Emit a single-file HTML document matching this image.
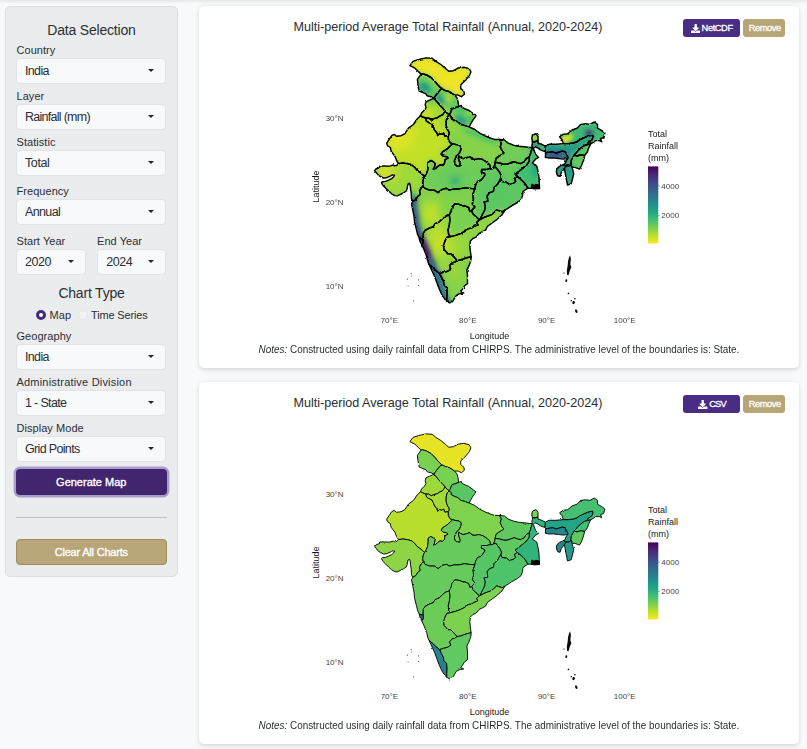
<!DOCTYPE html>
<html><head><meta charset="utf-8">
<style>
*{box-sizing:border-box;margin:0;padding:0}
html,body{width:807px;height:749px;overflow:hidden;background:#f8f9fa;font-family:"Liberation Sans",sans-serif;color:#212529}
body{position:relative}
.topshade{position:absolute;left:0;top:0;width:807px;height:4px;background:linear-gradient(#e6e7e9,#f8f9fa)}
.side{position:absolute;left:5px;top:6px;width:173px;height:571px;background:#ebecee;border:1px solid #dcdfe2;border-radius:5px}
.abs{position:absolute;white-space:nowrap}
.h{font-size:14px;color:#2b2f33;text-align:center;left:0;width:171px;letter-spacing:-0.2px;margin-top:0.9px}
.lab{font-size:11px;left:10.5px;color:#2b2f33;letter-spacing:0.05px;margin-top:1.4px}
.sel{position:absolute;left:9.5px;width:150.5px;height:26px;margin-top:-1px;background:#f8f9fa;border:1px solid #dfe2e6;border-radius:4px;font-size:12.5px;line-height:24px;padding-left:8.5px;letter-spacing:-0.66px;color:#2b2f33}
.sel:after{content:"";position:absolute;right:11.3px;top:9.8px;border-left:3.5px solid transparent;border-right:3.5px solid transparent;border-top:3.5px solid #212529}
.btn{position:absolute;left:10px;width:150.5px;height:26px;border-radius:4px;color:#fff;font-size:11px;text-align:center;line-height:27px;letter-spacing:0;-webkit-text-stroke:0.35px #fff}
.card{position:absolute;left:199px;width:600px;height:362px;background:#fff;border-radius:5px;box-shadow:0 1.5px 4px rgba(0,0,0,.13)}
.title{position:absolute;left:0;width:498px;text-align:center;font-size:12.6px;top:14.3px;color:#2b2f33;letter-spacing:0;white-space:nowrap}
.sbtn{position:absolute;top:13px;height:18px;border-radius:3px;color:#fff;font-size:9.3px;line-height:18.6px;text-align:center;letter-spacing:-0.42px;-webkit-text-stroke:0.3px #fff;white-space:nowrap}
.sbtn svg{position:absolute;top:4.6px;width:9.4px;height:9.4px;fill:#fff}
.notes{position:absolute;left:-50px;width:700px;text-align:center;top:336.5px;font-size:11px;color:#2b2f33;white-space:nowrap;transform:scaleX(0.9);transform-origin:50% 50%}
.ax{position:absolute;font-size:8.5px;color:#4d4d4d}
.axt{position:absolute;font-size:9.5px;color:#1a1a1a}
</style></head><body>
<div class="topshade"></div>
<div class="side">
 <div class="abs h" style="top:14px">Data Selection</div>
 <div class="abs lab" style="top:36px">Country</div>
 <div class="sel" style="top:52px">India</div>
 <div class="abs lab" style="top:82px">Layer</div>
 <div class="sel" style="top:98px;letter-spacing:-0.72px">Rainfall (mm)</div>
 <div class="abs lab" style="top:128px">Statistic</div>
 <div class="sel" style="top:144px;letter-spacing:-0.38px">Total</div>
 <div class="abs lab" style="top:177px">Frequency</div>
 <div class="sel" style="top:193px;letter-spacing:-0.63px">Annual</div>
 <div class="abs lab" style="top:227px">Start Year</div>
 <div class="abs lab" style="top:227px;left:91px">End Year</div>
 <div class="sel" style="top:243px;width:70.5px;letter-spacing:-0.45px">2020</div>
 <div class="sel" style="top:243px;left:90.8px;width:69.2px;letter-spacing:-0.45px">2024</div>
 <div class="abs h" style="top:277px">Chart Type</div>
 <div class="abs" style="left:29.7px;top:302.8px;width:10.2px;height:10.2px;border-radius:50%;border:3.3px solid #432a7c;background:#fff"></div>
 <div class="abs lab" style="left:43.5px;top:301px">Map</div>
 <div class="abs" style="left:72.3px;top:303.3px;width:9.4px;height:9.4px;border-radius:50%;border:1px solid #e3e5e8;background:#f1f2f4"></div>
 <div class="abs lab" style="left:85px;top:301px;letter-spacing:-0.15px">Time Series</div>
 <div class="abs lab" style="top:322px">Geography</div>
 <div class="sel" style="top:338px">India</div>
 <div class="abs lab" style="top:368px;letter-spacing:0.2px">Administrative Division</div>
 <div class="sel" style="top:384px">1 - State</div>
 <div class="abs lab" style="top:414px">Display Mode</div>
 <div class="sel" style="top:430px">Grid Points</div>
 <div class="btn" style="top:462px;background:#42256f;box-shadow:0 0 0 2.4px #a99dca">Generate Map</div>
 <div class="abs" style="left:10px;top:510px;width:150.5px;height:1px;background:#bfc1c4"></div>
 <div class="btn" style="top:532.2px;background:#b8a678;border:1px solid #9d8c62;line-height:25px;letter-spacing:-0.2px">Clear All Charts</div>
</div>

<div class="card" style="top:6px" id="c1">
 <div class="title">Multi-period Average Total Rainfall (Annual, 2020-2024)</div>
 <div class="sbtn" style="left:484px;width:57px;background:#492c83;text-align:left;padding-left:18.6px"><svg viewBox="0 0 512 512" style="left:7.5px"><path d="M216 0h80c13.3 0 24 10.7 24 24v168h87.7c17.8 0 26.7 21.5 14.1 34.1L269.7 378.3c-7.5 7.5-19.8 7.5-27.3 0L90.1 226.1c-12.6-12.6-3.7-34.1 14.1-34.1H192V24c0-13.3 10.7-24 24-24zm296 376v112c0 13.3-10.7 24-24 24H24c-13.3 0-24-10.7-24-24V376c0-13.3 10.7-24 24-24h146.7l49 49c20.1 20.1 52.5 20.1 72.6 0l49-49H488c13.3 0 24 10.7 24 24z"/></svg>NetCDF</div>
 <div class="sbtn" style="left:544px;width:42px;background:#b8a678;padding-left:1.5px">Remove</div>
 <div class="notes"><i>Notes:</i> Constructed using daily rainfall data from CHIRPS. The administrative level of the boundaries is: State.</div>
</div>
<div class="card" style="top:382px" id="c2">
 <div class="title">Multi-period Average Total Rainfall (Annual, 2020-2024)</div>
 <div class="sbtn" style="left:484px;width:57px;background:#492c83;text-align:left;padding-left:26.3px;letter-spacing:-0.9px"><svg viewBox="0 0 512 512" style="left:15.3px"><path d="M216 0h80c13.3 0 24 10.7 24 24v168h87.7c17.8 0 26.7 21.5 14.1 34.1L269.7 378.3c-7.5 7.5-19.8 7.5-27.3 0L90.1 226.1c-12.6-12.6-3.7-34.1 14.1-34.1H192V24c0-13.3 10.7-24 24-24zm296 376v112c0 13.3-10.7 24-24 24H24c-13.3 0-24-10.7-24-24V376c0-13.3 10.7-24 24-24h146.7l49 49c20.1 20.1 52.5 20.1 72.6 0l49-49H488c13.3 0 24 10.7 24 24z"/></svg>CSV</div>
 <div class="sbtn" style="left:544px;width:42px;background:#b8a678;padding-left:1.5px">Remove</div>
 <div class="notes"><i>Notes:</i> Constructed using daily rainfall data from CHIRPS. The administrative level of the boundaries is: State.</div>
</div>
<!--MAP--><svg width="807" height="749" viewBox="0 0 807 749" style="position:absolute;left:0;top:0"><defs><linearGradient id="lg" x1="0" y1="1" x2="0" y2="0"><stop offset="0.0" stop-color="#FDE725"/><stop offset="0.1" stop-color="#BBDF27"/><stop offset="0.2" stop-color="#7AD151"/><stop offset="0.3" stop-color="#43BF71"/><stop offset="0.4" stop-color="#22A884"/><stop offset="0.5" stop-color="#21908C"/><stop offset="0.6" stop-color="#2A788E"/><stop offset="0.7" stop-color="#35608D"/><stop offset="0.8" stop-color="#414487"/><stop offset="0.9" stop-color="#482576"/><stop offset="1.0" stop-color="#440154"/></linearGradient><clipPath id="india"><path d="M421.1 74.1 L414.9 68.2 L409.9 65.7 L413.0 61.4 L418.6 59.5 L426.0 57.9 L432.2 58.3 L435.9 61.4 L440.9 64.5 L445.2 68.2 L448.9 71.3 L453.3 70.7 L458.2 68.2 L463.8 67.3 L469.4 68.8 L470.9 71.9 L469.4 75.6 L466.3 79.4 L463.2 82.5 L460.7 84.9 L460.7 88.6 L463.8 91.1 L464.4 94.2 L461.3 96.7 L458.2 95.1 L454.5 95.0 L456.9 97.8 L458.1 101.8 L458.6 106.5 L461.3 105.4 L462.1 107.4 L465.3 109.0 L468.5 110.2 L476.0 115.9 L472.9 120.2 L470.4 124.5 L469.2 127.0 L474.8 129.5 L479.7 133.2 L485.9 136.3 L490.9 138.2 L494.6 139.4 L499.6 139.4 L504.5 140.0 L508.2 143.1 L513.2 145.0 L518.1 146.2 L524.4 146.8 L529.3 147.5 L532.4 147.5 L531.8 145.5 L532.4 143.6 L532.4 141.5 L531.8 138.1 L532.4 135.0 L536.1 133.7 L538.0 136.2 L538.0 140.8 L538.0 143.0 L541.7 144.3 L545.4 146.1 L549.1 144.3 L555.9 144.3 L563.4 143.6 L562.1 139.9 L559.6 136.8 L562.8 134.4 L567.7 133.7 L572.0 130.0 L577.0 128.2 L580.7 124.4 L585.7 123.8 L590.0 124.4 L594.4 122.0 L597.5 124.4 L597.5 128.2 L601.8 130.6 L604.9 133.1 L603.6 137.5 L600.5 138.7 L601.8 141.8 L599.3 140.6 L595.6 140.6 L593.1 142.4 L590.6 143.9 L588.4 148.6 L587.5 151.7 L584.7 155.4 L583.2 161.0 L581.3 166.0 L579.5 169.1 L575.1 167.4 L572.1 167.3 L573.7 173.8 L572.5 178.8 L571.2 183.7 L567.5 185.0 L566.3 178.8 L565.1 172.6 L564.4 168.2 L563.2 170.1 L561.3 172.6 L560.1 176.3 L557.6 175.7 L556.4 172.0 L556.8 168.9 L559.5 166.4 L563.4 164.7 L565.2 163.5 L565.9 161.0 L567.7 158.5 L563.4 159.1 L558.4 158.5 L553.5 157.9 L548.5 157.9 L545.4 157.3 L545.6 152.6 L545.1 151.3 L543.5 151.1 L540.5 149.9 L538.0 148.0 L534.9 146.8 L533.4 148.4 L535.5 154.3 L538.6 157.4 L535.5 159.2 L532.4 163.0 L536.7 166.0 L538.2 172.2 L539.0 177.5 L539.3 183.7 L539.6 188.5 L534.7 188.9 L531.0 188.1 L527.8 188.2 L523.1 191.4 L522.5 195.7 L521.2 199.5 L517.5 202.5 L512.0 205.6 L508.2 208.1 L505.1 210.0 L502.0 214.9 L497.1 219.3 L492.1 223.0 L487.2 226.7 L485.9 229.8 L482.8 231.7 L479.1 233.5 L476.0 237.2 L472.9 238.5 L470.4 241.0 L469.8 245.9 L470.3 250.9 L471.2 256.9 L470.6 261.3 L468.8 266.2 L466.9 269.9 L467.5 276.1 L467.5 283.6 L464.4 286.0 L462.6 289.1 L460.7 291.6 L463.8 292.9 L459.5 293.7 L456.4 295.3 L454.5 298.4 L452.7 301.5 L449.6 302.9 L446.7 301.3 L445.2 299.7 L442.1 295.3 L439.6 289.8 L437.2 283.6 L434.7 276.8 L431.6 269.9 L429.1 264.4 L427.9 261.9 L426.6 256.3 L424.2 250.1 L421.7 244.5 L419.8 240.8 L419.3 238.0 L417.7 234.8 L416.5 229.8 L414.6 222.4 L414.0 216.2 L412.8 210.0 L411.5 203.8 L412.8 201.3 L411.5 198.8 L411.2 192.8 L410.6 189.1 L410.3 186.0 L409.6 183.2 L408.1 183.9 L407.5 186.0 L407.2 188.5 L406.2 191.0 L403.5 192.8 L400.4 194.4 L397.3 195.9 L394.8 195.6 L391.7 193.8 L388.6 191.0 L385.5 187.9 L382.4 184.8 L381.5 182.4 L382.4 181.7 L385.5 181.4 L388.6 180.1 L391.7 178.6 L393.5 177.0 L394.6 175.1 L392.3 174.9 L389.8 176.4 L386.7 177.7 L383.6 178.0 L380.5 176.7 L378.1 174.9 L376.2 172.4 L374.6 170.8 L376.2 168.7 L379.3 167.7 L379.9 165.9 L382.1 165.9 L384.9 165.9 L388.0 166.2 L390.4 165.9 L393.2 165.0 L394.8 165.9 L396.9 165.3 L398.5 163.6 L396.6 160.5 L394.8 156.1 L392.9 153.6 L391.1 151.2 L390.4 147.5 L387.4 145.6 L386.7 143.1 L389.2 139.4 L391.7 135.7 L394.2 134.4 L396.6 136.3 L401.0 135.7 L404.7 133.8 L408.4 128.2 L413.4 124.5 L417.1 119.0 L420.4 115.8 L421.6 113.0 L424.0 110.6 L426.0 107.8 L425.2 104.6 L426.0 101.8 L429.6 100.2 L434.0 98.2 L431.6 97.0 L427.2 95.8 L426.0 93.8 L419.2 91.1 L418.0 84.9 L417.4 79.4Z"/></clipPath><filter id="b6" x="-50%" y="-50%" width="200%" height="200%"><feGaussianBlur stdDeviation="6"/></filter><filter id="b3" x="-50%" y="-50%" width="200%" height="200%"><feGaussianBlur stdDeviation="2.5"/></filter><filter id="jag" x="-5%" y="-5%" width="110%" height="110%"><feTurbulence type="fractalNoise" baseFrequency="0.3" numOctaves="2" seed="3" result="n"/><feDisplacementMap in="SourceGraphic" in2="n" scale="2.2" xChannelSelector="R" yChannelSelector="G"/></filter><filter id="jag2" x="-5%" y="-5%" width="110%" height="110%"><feTurbulence type="fractalNoise" baseFrequency="0.3" numOctaves="2" seed="7" result="n"/><feDisplacementMap in="SourceGraphic" in2="n" scale="1.8" xChannelSelector="R" yChannelSelector="G"/></filter><filter id="b2" x="-50%" y="-50%" width="200%" height="200%"><feGaussianBlur stdDeviation="2.2"/></filter></defs><g clip-path="url(#india)"><rect x="370" y="50" width="250" height="260" fill="#6fcd58"/><g filter="url(#b3)"><path d="M421.1 74.1 L414.9 68.2 L409.9 65.7 L413.0 61.4 L418.6 59.5 L426.0 57.9 L432.2 58.3 L435.9 61.4 L440.9 64.5 L445.2 68.2 L448.9 71.3 L453.3 70.7 L458.2 68.2 L463.8 67.3 L469.4 68.8 L470.9 71.9 L469.4 75.6 L466.3 79.4 L463.2 82.5 L460.7 84.9 L460.7 88.6 L463.8 91.1 L464.4 94.2 L461.3 96.7 L458.2 95.1 L454.5 95.0 L449.6 91.8 L445.2 90.5 L441.5 88.6 L438.4 85.6 L434.7 81.2 L431.0 77.5 L426.6 75.0 L422.3 73.8Z" fill="#ede525" stroke="#ede525" stroke-width="2"/><path d="M421.1 74.1 L422.3 73.8 L426.6 75.0 L431.0 77.5 L434.7 81.2 L438.4 85.6 L441.5 88.6 L436.6 94.2 L434.0 98.2 L431.6 97.0 L427.2 95.8 L426.0 93.8 L419.2 91.1 L418.0 84.9 L417.4 79.4Z" fill="#6fcd58" stroke="#6fcd58" stroke-width="2"/><path d="M434.0 98.2 L436.6 94.2 L441.5 88.6 L445.2 90.5 L449.6 91.8 L454.5 95.0 L456.9 97.8 L458.1 101.8 L458.6 106.5 L454.9 107.8 L451.7 109.0 L450.9 111.4 L450.1 113.8 L449.2 114.8 L446.9 113.0 L444.9 110.8 L442.8 108.2 L440.4 105.8 L438.0 103.0 L435.6 100.2Z" fill="#64ca5e" stroke="#64ca5e" stroke-width="2"/><path d="M434.0 98.2 L435.6 100.2 L438.0 103.0 L440.4 105.8 L442.8 108.2 L444.9 110.8 L444.4 112.2 L442.8 114.6 L439.6 116.2 L437.2 117.8 L434.0 118.6 L431.2 119.8 L428.8 118.2 L425.6 118.0 L422.8 117.0 L420.4 115.8 L421.6 113.0 L424.0 110.6 L426.0 107.8 L425.2 104.6 L426.0 101.8 L429.6 100.2Z" fill="#a5da36" stroke="#a5da36" stroke-width="2"/><path d="M425.6 118.0 L428.8 118.2 L431.2 119.8 L434.0 118.6 L437.2 117.8 L439.6 116.2 L442.8 114.6 L444.4 112.2 L444.9 110.8 L446.9 113.0 L449.2 114.8 L447.2 117.0 L446.2 121.0 L446.1 125.1 L446.7 127.4 L447.6 129.9 L449.2 132.3 L449.2 134.3 L448.3 135.6 L446.4 135.9 L444.9 136.3 L443.6 133.1 L441.6 134.3 L439.6 133.5 L437.6 135.5 L436.8 132.7 L434.4 129.9 L433.2 126.6 L431.6 123.9 L428.8 122.6 L426.4 121.0Z" fill="#b7de2a" stroke="#b7de2a" stroke-width="2"/><path d="M458.6 106.5 L461.3 105.4 L462.1 107.4 L465.3 109.0 L468.5 110.2 L476.0 115.9 L472.9 120.2 L470.4 124.5 L469.2 127.0 L467.7 126.6 L464.5 125.4 L460.5 124.2 L458.1 121.8 L454.9 120.6 L451.7 119.0 L450.9 116.6 L449.2 114.8 L450.1 113.8 L450.9 111.4 L451.7 109.0 L454.9 107.8Z" fill="#4ac16d" stroke="#4ac16d" stroke-width="2"/><path d="M398.5 163.6 L396.6 160.5 L394.8 156.1 L392.9 153.6 L391.1 151.2 L390.4 147.5 L387.4 145.6 L386.7 143.1 L389.2 139.4 L391.7 135.7 L394.2 134.4 L396.6 136.3 L401.0 135.7 L404.7 133.8 L408.4 128.2 L413.4 124.5 L417.1 119.0 L420.4 115.8 L422.8 117.0 L425.6 118.0 L426.4 121.0 L428.8 122.6 L431.6 123.9 L433.2 126.6 L434.4 129.9 L436.8 132.7 L437.6 135.5 L439.6 133.5 L441.6 134.3 L443.6 133.1 L444.9 136.3 L446.4 135.9 L448.3 135.6 L448.4 139.5 L450.1 142.7 L452.8 143.8 L451.2 145.0 L448.1 148.1 L445.6 149.9 L442.5 151.8 L441.2 154.3 L443.1 156.1 L446.8 156.8 L448.1 158.0 L445.0 159.9 L444.4 163.6 L442.5 165.4 L440.0 164.8 L437.5 166.7 L435.7 168.5 L433.2 169.1 L434.4 167.3 L435.1 163.6 L433.2 161.7 L430.7 160.5 L428.2 162.3 L428.2 166.0 L427.6 170.4 L426.4 173.5 L424.5 176.6 L422.7 174.7 L419.6 172.2 L417.1 170.4 L414.6 167.3 L411.5 164.8 L407.2 163.6 L402.8 163.0Z" fill="#c2e027" stroke="#c2e027" stroke-width="2"/><path d="M449.2 114.8 L450.9 116.6 L451.7 119.0 L454.9 120.6 L458.1 121.8 L460.5 124.2 L464.5 125.4 L467.7 126.6 L469.2 127.0 L474.8 129.5 L479.7 133.2 L485.9 136.3 L490.9 138.2 L494.6 139.4 L499.6 139.4 L501.4 143.1 L500.2 146.8 L502.0 150.6 L503.9 153.0 L501.4 154.9 L498.9 156.1 L495.9 158.6 L495.2 162.3 L494.6 165.4 L493.4 167.9 L491.9 168.8 L490.5 168.6 L489.7 165.0 L487.7 163.0 L484.9 161.0 L481.7 159.0 L478.4 158.6 L475.2 159.4 L472.0 159.0 L470.0 156.6 L466.4 157.8 L463.2 158.6 L460.4 157.4 L458.8 156.2 L458.4 158.2 L459.2 161.0 L460.4 164.2 L459.6 166.2 L456.8 165.9 L454.8 164.2 L454.4 161.0 L455.6 157.8 L456.4 155.8 L458.0 154.6 L459.6 152.6 L460.8 149.8 L461.2 147.0 L459.2 145.0 L456.0 144.6 L452.8 143.8 L450.1 142.7 L448.4 139.5 L448.3 135.6 L449.2 134.3 L449.2 132.3 L447.6 129.9 L446.7 127.4 L446.1 125.1 L446.2 121.0 L447.2 117.0Z" fill="#85d34a" stroke="#85d34a" stroke-width="2"/><path d="M499.6 139.4 L504.5 140.0 L508.2 143.1 L513.2 145.0 L518.1 146.2 L524.4 146.8 L529.3 147.5 L532.4 147.5 L531.2 151.2 L530.5 153.6 L529.3 156.8 L526.2 158.6 L524.4 161.7 L520.6 163.6 L517.5 163.0 L514.4 161.7 L510.7 163.0 L507.0 164.2 L503.3 164.2 L499.6 163.0 L495.2 162.3 L495.9 158.6 L498.9 156.1 L501.4 154.9 L503.9 153.0 L502.0 150.6 L500.2 146.8 L501.4 143.1Z" fill="#6fcd58" stroke="#6fcd58" stroke-width="2"/><path d="M495.2 162.3 L499.6 163.0 L503.3 164.2 L507.0 164.2 L510.7 163.0 L514.4 161.7 L517.5 163.0 L520.6 163.6 L524.4 161.7 L526.2 158.6 L529.3 156.8 L529.3 161.1 L526.8 164.8 L523.1 167.9 L519.4 171.0 L515.1 174.1 L517.5 176.6 L514.4 178.4 L515.7 181.5 L513.2 183.4 L509.5 184.6 L506.4 182.1 L502.0 181.5 L500.8 178.4 L501.4 176.0 L499.6 172.2 L497.7 169.8 L495.9 167.3 L493.4 167.9 L494.6 165.4Z" fill="#69cc5b" stroke="#69cc5b" stroke-width="2"/><path d="M532.4 147.5 L531.8 145.5 L532.4 143.6 L532.4 141.5 L534.9 141.8 L538.0 140.8 L538.0 143.0 L541.7 144.3 L545.4 146.1 L545.1 151.3 L543.5 151.1 L540.5 149.9 L538.0 148.0 L534.9 146.8 L533.4 148.4 L535.5 154.3 L538.6 157.4 L535.5 159.2 L532.4 163.0 L536.7 166.0 L538.2 172.2 L539.0 177.5 L539.3 183.7 L539.6 188.5 L534.7 188.9 L531.0 188.1 L527.8 188.2 L525.0 183.4 L521.2 179.7 L517.5 176.6 L515.1 174.1 L519.4 171.0 L523.1 167.9 L526.8 164.8 L529.3 161.1 L529.3 156.8 L530.5 153.6 L531.2 151.2Z" fill="#41be72" stroke="#41be72" stroke-width="2"/><path d="M532.4 141.5 L531.8 138.1 L532.4 135.0 L536.1 133.7 L538.0 136.2 L538.0 140.8 L534.9 141.8Z" fill="#a5da36" stroke="#a5da36" stroke-width="2"/><path d="M412.8 201.3 L411.5 198.8 L411.2 192.8 L410.6 189.1 L410.3 186.0 L409.6 183.2 L408.1 183.9 L407.5 186.0 L407.2 188.5 L406.2 191.0 L403.5 192.8 L400.4 194.4 L397.3 195.9 L394.8 195.6 L391.7 193.8 L388.6 191.0 L385.5 187.9 L382.4 184.8 L381.5 182.4 L382.4 181.7 L385.5 181.4 L388.6 180.1 L391.7 178.6 L393.5 177.0 L394.6 175.1 L392.3 174.9 L389.8 176.4 L386.7 177.7 L383.6 178.0 L380.5 176.7 L378.1 174.9 L376.2 172.4 L374.6 170.8 L376.2 168.7 L379.3 167.7 L379.9 165.9 L382.1 165.9 L384.9 165.9 L388.0 166.2 L390.4 165.9 L393.2 165.0 L394.8 165.9 L396.9 165.3 L398.5 163.6 L402.8 163.0 L407.2 163.6 L411.5 164.8 L414.6 167.3 L417.1 170.4 L419.6 172.2 L422.7 174.7 L424.5 176.6 L423.3 179.0 L422.7 182.7 L423.3 185.8 L421.4 187.7 L419.6 190.8 L420.2 194.5 L417.7 196.4 L415.9 199.5Z" fill="#9ed93a" stroke="#9ed93a" stroke-width="2"/><path d="M424.5 176.6 L426.4 173.5 L427.6 170.4 L428.2 166.0 L428.2 162.3 L430.7 160.5 L433.2 161.7 L435.1 163.6 L434.4 167.3 L433.2 169.1 L435.7 168.5 L437.5 166.7 L440.0 164.8 L442.5 165.4 L444.4 163.6 L445.0 159.9 L448.1 158.0 L446.8 156.8 L443.1 156.1 L441.2 154.3 L442.5 151.8 L445.6 149.9 L448.1 148.1 L451.2 145.0 L452.8 143.8 L456.0 144.6 L459.2 145.0 L461.2 147.0 L460.8 149.8 L459.6 152.6 L458.0 154.6 L456.4 155.8 L455.6 157.8 L454.4 161.0 L454.8 164.2 L456.8 165.9 L459.6 166.2 L460.4 164.2 L459.2 161.0 L458.4 158.2 L458.8 156.2 L460.4 157.4 L463.2 158.6 L466.4 157.8 L470.0 156.6 L472.0 159.0 L475.2 159.4 L478.4 158.6 L481.7 159.0 L484.9 161.0 L487.7 163.0 L489.7 165.0 L490.5 168.6 L486.9 169.5 L481.7 169.5 L481.3 171.9 L484.5 173.5 L484.9 175.1 L482.9 177.9 L480.9 180.3 L477.6 181.5 L475.6 185.1 L474.8 188.9 L468.6 188.3 L464.2 187.7 L459.2 188.9 L454.3 188.9 L449.3 190.1 L446.2 188.3 L441.9 189.5 L438.1 192.6 L434.4 190.1 L429.5 190.1 L425.1 188.3 L423.3 185.8 L422.7 182.7 L423.3 179.0Z" fill="#6fcd58" stroke="#6fcd58" stroke-width="2"/><path d="M474.8 188.9 L475.6 185.1 L477.6 181.5 L480.9 180.3 L482.9 177.9 L484.9 175.1 L484.5 173.5 L481.3 171.9 L481.7 169.5 L486.9 169.5 L490.5 168.6 L491.9 168.8 L493.4 167.9 L495.9 167.3 L497.7 169.8 L499.6 172.2 L501.4 176.0 L500.8 178.4 L497.7 184.0 L494.0 187.7 L493.4 191.4 L489.6 192.6 L487.2 195.7 L487.8 201.3 L484.1 201.9 L485.3 205.6 L484.7 210.0 L482.8 213.7 L480.4 218.6 L479.5 219.9 L476.0 216.8 L472.9 213.7 L471.7 210.4 L474.8 206.9 L472.3 203.8 L473.5 198.8 L472.9 193.9Z" fill="#64ca5e" stroke="#64ca5e" stroke-width="2"/><path d="M500.8 178.4 L502.0 181.5 L506.4 182.1 L509.5 184.6 L513.2 183.4 L515.7 181.5 L514.4 178.4 L517.5 176.6 L521.2 179.7 L525.0 183.4 L527.8 188.2 L523.1 191.4 L522.5 195.7 L521.2 199.5 L517.5 202.5 L512.0 205.6 L508.2 208.1 L505.1 210.0 L502.0 211.8 L498.9 210.6 L496.5 210.0 L493.4 213.1 L490.9 214.9 L487.2 216.2 L484.1 217.4 L479.5 219.9 L480.4 218.6 L482.8 213.7 L484.7 210.0 L485.3 205.6 L484.1 201.9 L487.8 201.3 L487.2 195.7 L489.6 192.6 L493.4 191.4 L494.0 187.7 L497.7 184.0Z" fill="#5dc762" stroke="#5dc762" stroke-width="2"/><path d="M419.3 238.0 L417.7 234.8 L416.5 229.8 L414.6 222.4 L414.0 216.2 L412.8 210.0 L411.5 203.8 L412.8 201.3 L415.9 199.5 L417.7 196.4 L420.2 194.5 L419.6 190.8 L421.4 187.7 L423.3 185.8 L425.1 188.3 L429.5 190.1 L434.4 190.1 L438.1 192.6 L441.9 189.5 L446.2 188.3 L449.3 190.1 L454.3 188.9 L459.2 188.9 L464.2 187.7 L468.6 188.3 L474.8 188.9 L472.9 193.9 L473.5 198.8 L472.3 203.8 L474.8 206.9 L471.7 210.4 L469.8 211.5 L468.6 207.5 L464.2 205.6 L464.2 206.3 L459.2 204.4 L454.9 203.8 L451.8 207.5 L451.2 211.2 L449.3 214.9 L445.6 216.2 L442.5 218.6 L439.4 221.8 L435.1 223.6 L433.2 226.7 L429.5 228.0 L425.1 230.4 L423.3 233.5 L423.1 239.3Z" fill="#7fd24e" stroke="#7fd24e" stroke-width="2"/><path d="M449.3 214.9 L451.2 211.2 L451.8 207.5 L454.9 203.8 L459.2 204.4 L464.2 206.3 L464.2 205.6 L468.6 207.5 L469.8 211.5 L471.7 210.4 L472.9 213.7 L476.0 216.8 L479.5 219.9 L476.6 222.4 L477.9 224.9 L473.5 226.7 L471.7 228.0 L468.6 228.6 L464.9 230.4 L465.4 231.0 L460.5 233.5 L455.5 235.4 L450.6 236.6 L448.7 234.8 L448.1 229.8 L449.3 224.9 L449.9 219.9Z" fill="#79d151" stroke="#79d151" stroke-width="2"/><path d="M450.6 236.6 L455.5 235.4 L460.5 233.5 L465.4 231.0 L464.9 230.4 L468.6 228.6 L471.7 228.0 L473.5 226.7 L477.9 224.9 L476.6 222.4 L479.5 219.9 L484.1 217.4 L487.2 216.2 L490.9 214.9 L493.4 213.1 L496.5 210.0 L498.9 210.6 L502.0 211.8 L505.1 210.0 L502.0 214.9 L497.1 219.3 L492.1 223.0 L487.2 226.7 L485.9 229.8 L482.8 231.7 L479.1 233.5 L476.0 237.2 L472.9 238.5 L470.4 241.0 L469.8 245.9 L470.3 250.9 L471.2 256.9 L467.5 257.5 L463.8 258.8 L460.7 260.0 L457.0 260.6 L455.1 258.2 L453.3 256.3 L450.8 253.8 L447.7 253.8 L445.9 251.4 L444.0 249.5 L443.4 245.1 L443.7 244.7 L445.0 241.0 L446.8 237.2Z" fill="#92d642" stroke="#92d642" stroke-width="2"/><path d="M423.1 239.3 L423.3 233.5 L425.1 230.4 L429.5 228.0 L433.2 226.7 L435.1 223.6 L439.4 221.8 L442.5 218.6 L445.6 216.2 L449.3 214.9 L449.9 219.9 L449.3 224.9 L448.1 229.8 L448.7 234.8 L450.6 236.6 L446.8 237.2 L445.0 241.0 L443.7 244.7 L443.4 245.1 L444.0 249.5 L445.9 251.4 L447.7 253.8 L450.8 253.8 L453.3 256.3 L455.1 258.2 L457.0 260.6 L455.1 261.9 L452.0 263.1 L449.6 265.6 L450.8 269.3 L447.7 271.2 L443.4 272.4 L439.6 273.6 L435.9 270.6 L432.8 267.5 L429.1 264.4 L427.9 261.9 L426.6 256.3 L424.2 250.1 L421.7 244.5 L423.1 243.3Z" fill="#92d642" stroke="#92d642" stroke-width="2"/><path d="M419.3 238.0 L423.1 239.3 L423.1 243.3 L421.7 244.5 L419.8 240.8Z" fill="#306c8d" stroke="#306c8d" stroke-width="2"/><path d="M429.1 264.4 L432.8 267.5 L435.9 270.6 L439.6 273.6 L441.5 277.4 L443.4 281.1 L444.0 284.8 L446.5 287.3 L447.1 292.2 L446.8 297.2 L446.7 301.3 L445.2 299.7 L442.1 295.3 L439.6 289.8 L437.2 283.6 L434.7 276.8 L431.6 269.9Z" fill="#287e8d" stroke="#287e8d" stroke-width="2"/><path d="M439.6 273.6 L443.4 272.4 L447.7 271.2 L450.8 269.3 L449.6 265.6 L452.0 263.1 L455.1 261.9 L457.0 260.6 L460.7 260.0 L463.8 258.8 L467.5 257.5 L471.2 256.9 L470.6 261.3 L468.8 266.2 L466.9 269.9 L467.5 276.1 L467.5 283.6 L464.4 286.0 L462.6 289.1 L460.7 291.6 L463.8 292.9 L459.5 293.7 L456.4 295.3 L454.5 298.4 L452.7 301.5 L449.6 302.9 L446.7 301.3 L446.8 297.2 L447.1 292.2 L446.5 287.3 L444.0 284.8 L443.4 281.1 L441.5 277.4Z" fill="#85d34a" stroke="#85d34a" stroke-width="2"/><path d="M545.4 146.1 L549.1 144.3 L555.9 144.3 L563.4 143.6 L568.3 143.6 L573.3 143.0 L577.0 141.8 L579.5 139.9 L583.2 138.1 L587.5 136.2 L592.5 135.0 L593.1 136.8 L591.9 139.9 L588.1 142.4 L587.5 144.6 L584.4 145.5 L580.7 148.0 L577.6 151.1 L574.3 155.0 L573.3 156.7 L571.4 159.8 L570.8 164.7 L569.0 166.0 L566.0 166.0 L563.4 164.7 L565.2 163.5 L565.9 161.0 L567.7 158.5 L567.7 156.7 L565.9 154.2 L565.2 151.7 L562.1 151.1 L558.4 152.3 L555.9 153.0 L552.8 151.7 L549.1 152.3 L545.6 152.6 L545.1 151.3Z" fill="#219a89" stroke="#219a89" stroke-width="2"/><path d="M563.4 143.6 L562.1 139.9 L559.6 136.8 L562.8 134.4 L567.7 133.7 L572.0 130.0 L577.0 128.2 L580.7 124.4 L585.7 123.8 L590.0 124.4 L594.4 122.0 L597.5 124.4 L597.5 128.2 L601.8 130.6 L604.9 133.1 L603.6 137.5 L600.5 138.7 L601.8 141.8 L599.3 140.6 L595.6 140.6 L593.1 142.4 L590.6 143.9 L587.5 144.6 L588.1 142.4 L591.9 139.9 L593.1 136.8 L592.5 135.0 L587.5 136.2 L583.2 138.1 L579.5 139.9 L577.0 141.8 L573.3 143.0 L568.3 143.6Z" fill="#3bb976" stroke="#3bb976" stroke-width="2"/><path d="M587.5 144.6 L590.6 143.9 L588.4 148.6 L587.5 151.7 L584.7 155.4 L580.7 154.8 L577.0 156.0 L574.3 155.0 L577.6 151.1 L580.7 148.0 L584.4 145.5Z" fill="#54c567" stroke="#54c567" stroke-width="2"/><path d="M574.3 155.0 L577.0 156.0 L580.7 154.8 L584.7 155.4 L583.2 161.0 L581.3 166.0 L579.5 169.1 L575.1 167.4 L572.1 167.3 L570.8 164.7 L571.4 159.8 L573.3 156.7Z" fill="#64ca5e" stroke="#64ca5e" stroke-width="2"/><path d="M570.8 164.7 L572.1 167.3 L573.7 173.8 L572.5 178.8 L571.2 183.7 L567.5 185.0 L566.3 178.8 L565.1 172.6 L564.4 168.2 L566.0 166.0 L569.0 166.0Z" fill="#219a89" stroke="#219a89" stroke-width="2"/><path d="M566.0 166.0 L564.4 168.2 L563.2 170.1 L561.3 172.6 L560.1 176.3 L557.6 175.7 L556.4 172.0 L556.8 168.9 L559.5 166.4 L563.4 164.7Z" fill="#21958a" stroke="#21958a" stroke-width="2"/><path d="M545.6 152.6 L549.1 152.3 L552.8 151.7 L555.9 153.0 L558.4 152.3 L562.1 151.1 L565.2 151.7 L565.9 154.2 L567.7 156.7 L567.7 158.5 L563.4 159.1 L558.4 158.5 L553.5 157.9 L548.5 157.9 L545.4 157.3Z" fill="#306c8d" stroke="#306c8d" stroke-width="2"/></g><g filter="url(#b6)"><ellipse cx="398.0" cy="135.0" rx="16.0" ry="14.0" fill="#e3e426" transform="rotate(0 398.0 135.0)"/><ellipse cx="386.0" cy="171.0" rx="11.0" ry="6.0" fill="#f0e525" transform="rotate(0 386.0 171.0)"/><ellipse cx="431.0" cy="214.0" rx="9.0" ry="14.0" fill="#c7e127" transform="rotate(0 431.0 214.0)"/><ellipse cx="439.0" cy="242.0" rx="8.0" ry="14.0" fill="#d3e226" transform="rotate(0 439.0 242.0)"/><ellipse cx="452.0" cy="247.0" rx="8.0" ry="6.0" fill="#b7de2a" transform="rotate(0 452.0 247.0)"/><ellipse cx="455.0" cy="181.0" rx="7.0" ry="5.0" fill="#34b579" transform="rotate(0 455.0 181.0)"/><ellipse cx="500.0" cy="190.0" rx="18.0" ry="12.0" fill="#5ac664" transform="rotate(0 500.0 190.0)"/><ellipse cx="455.0" cy="120.0" rx="16.0" ry="6.0" fill="#98d73e" transform="rotate(30 455.0 120.0)"/><ellipse cx="455.0" cy="272.0" rx="6.0" ry="8.0" fill="#a5da36" transform="rotate(0 455.0 272.0)"/></g><g filter="url(#b2)"><path d="M419.3 238.0 L417.7 234.8 L416.5 229.8 L414.6 222.4 L414.0 216.2 L412.8 210.0 L411.5 203.8 L412.8 201.3" fill="none" stroke="#38598b" stroke-width="10.0" stroke-linecap="round"/><path d="M421.7 244.5 L419.8 240.8 L419.3 238.0" fill="none" stroke="#433d83" stroke-width="10.0" stroke-linecap="round"/><path d="M429.1 264.4 L427.9 261.9 L426.6 256.3 L424.2 250.1 L421.7 244.5" fill="none" stroke="#471f70" stroke-width="11.0" stroke-linecap="round"/><path d="M446.7 301.3 L445.2 299.7 L442.1 295.3 L439.6 289.8 L437.2 283.6 L434.7 276.8 L431.6 269.9 L429.1 264.4" fill="none" stroke="#2d718e" stroke-width="8.0" stroke-linecap="round"/><ellipse cx="425.0" cy="88.0" rx="8.0" ry="5.0" fill="#34b579" transform="rotate(35 425.0 88.0)"/><ellipse cx="424.5" cy="87.0" rx="5.0" ry="3.0" fill="#21918c" transform="rotate(35 424.5 87.0)"/><ellipse cx="440.0" cy="99.0" rx="7.0" ry="2.5" fill="#21918c" transform="rotate(45 440.0 99.0)"/><ellipse cx="461.0" cy="120.0" rx="7.0" ry="3.5" fill="#229e87" transform="rotate(35 461.0 120.0)"/><ellipse cx="470.0" cy="112.0" rx="4.0" ry="3.0" fill="#a5da36" transform="rotate(0 470.0 112.0)"/><ellipse cx="449.0" cy="98.0" rx="2.5" ry="5.0" fill="#b7de2a" transform="rotate(0 449.0 98.0)"/><ellipse cx="428.0" cy="113.0" rx="6.0" ry="4.0" fill="#cae127" transform="rotate(0 428.0 113.0)"/><ellipse cx="431.0" cy="101.0" rx="4.0" ry="3.0" fill="#69cc5b" transform="rotate(0 431.0 101.0)"/><ellipse cx="455.0" cy="181.0" rx="2.5" ry="2.0" fill="#219a89" transform="rotate(0 455.0 181.0)"/><ellipse cx="535.0" cy="146.0" rx="5.0" ry="2.5" fill="#2b758e" transform="rotate(15 535.0 146.0)"/><ellipse cx="535.0" cy="170.0" rx="3.0" ry="8.0" fill="#22a884" transform="rotate(0 535.0 170.0)"/><ellipse cx="554.0" cy="156.0" rx="8.0" ry="2.5" fill="#3f4988" transform="rotate(0 554.0 156.0)"/><ellipse cx="589.0" cy="133.0" rx="4.0" ry="3.0" fill="#472b7a" transform="rotate(0 589.0 133.0)"/><ellipse cx="566.0" cy="139.0" rx="8.0" ry="3.5" fill="#e3e426" transform="rotate(-25 566.0 139.0)"/><ellipse cx="413.0" cy="196.0" rx="2.0" ry="4.0" fill="#21958a" transform="rotate(0 413.0 196.0)"/><ellipse cx="438.5" cy="277.0" rx="2.5" ry="16.0" fill="#2d718e" transform="rotate(-17 438.5 277.0)"/><ellipse cx="433.0" cy="262.0" rx="2.5" ry="6.0" fill="#38598b" transform="rotate(-20 433.0 262.0)"/><ellipse cx="480.0" cy="136.0" rx="20.0" ry="2.5" fill="#4ac16d" transform="rotate(22 480.0 136.0)"/></g></g><g stroke="#000" stroke-width="1.45" stroke-linejoin="round" fill="none" filter="url(#jag)"><path d="M421.1 74.1 L414.9 68.2 L409.9 65.7 L413.0 61.4 L418.6 59.5 L426.0 57.9 L432.2 58.3 L435.9 61.4 L440.9 64.5 L445.2 68.2 L448.9 71.3 L453.3 70.7 L458.2 68.2 L463.8 67.3 L469.4 68.8 L470.9 71.9 L469.4 75.6 L466.3 79.4 L463.2 82.5 L460.7 84.9 L460.7 88.6 L463.8 91.1 L464.4 94.2 L461.3 96.7 L458.2 95.1 L454.5 95.0 L449.6 91.8 L445.2 90.5 L441.5 88.6 L438.4 85.6 L434.7 81.2 L431.0 77.5 L426.6 75.0 L422.3 73.8Z"/><path d="M421.1 74.1 L422.3 73.8 L426.6 75.0 L431.0 77.5 L434.7 81.2 L438.4 85.6 L441.5 88.6 L436.6 94.2 L434.0 98.2 L431.6 97.0 L427.2 95.8 L426.0 93.8 L419.2 91.1 L418.0 84.9 L417.4 79.4Z"/><path d="M434.0 98.2 L436.6 94.2 L441.5 88.6 L445.2 90.5 L449.6 91.8 L454.5 95.0 L456.9 97.8 L458.1 101.8 L458.6 106.5 L454.9 107.8 L451.7 109.0 L450.9 111.4 L450.1 113.8 L449.2 114.8 L446.9 113.0 L444.9 110.8 L442.8 108.2 L440.4 105.8 L438.0 103.0 L435.6 100.2Z"/><path d="M434.0 98.2 L435.6 100.2 L438.0 103.0 L440.4 105.8 L442.8 108.2 L444.9 110.8 L444.4 112.2 L442.8 114.6 L439.6 116.2 L437.2 117.8 L434.0 118.6 L431.2 119.8 L428.8 118.2 L425.6 118.0 L422.8 117.0 L420.4 115.8 L421.6 113.0 L424.0 110.6 L426.0 107.8 L425.2 104.6 L426.0 101.8 L429.6 100.2Z"/><path d="M425.6 118.0 L428.8 118.2 L431.2 119.8 L434.0 118.6 L437.2 117.8 L439.6 116.2 L442.8 114.6 L444.4 112.2 L444.9 110.8 L446.9 113.0 L449.2 114.8 L447.2 117.0 L446.2 121.0 L446.1 125.1 L446.7 127.4 L447.6 129.9 L449.2 132.3 L449.2 134.3 L448.3 135.6 L446.4 135.9 L444.9 136.3 L443.6 133.1 L441.6 134.3 L439.6 133.5 L437.6 135.5 L436.8 132.7 L434.4 129.9 L433.2 126.6 L431.6 123.9 L428.8 122.6 L426.4 121.0Z"/><path d="M458.6 106.5 L461.3 105.4 L462.1 107.4 L465.3 109.0 L468.5 110.2 L476.0 115.9 L472.9 120.2 L470.4 124.5 L469.2 127.0 L467.7 126.6 L464.5 125.4 L460.5 124.2 L458.1 121.8 L454.9 120.6 L451.7 119.0 L450.9 116.6 L449.2 114.8 L450.1 113.8 L450.9 111.4 L451.7 109.0 L454.9 107.8Z"/><path d="M398.5 163.6 L396.6 160.5 L394.8 156.1 L392.9 153.6 L391.1 151.2 L390.4 147.5 L387.4 145.6 L386.7 143.1 L389.2 139.4 L391.7 135.7 L394.2 134.4 L396.6 136.3 L401.0 135.7 L404.7 133.8 L408.4 128.2 L413.4 124.5 L417.1 119.0 L420.4 115.8 L422.8 117.0 L425.6 118.0 L426.4 121.0 L428.8 122.6 L431.6 123.9 L433.2 126.6 L434.4 129.9 L436.8 132.7 L437.6 135.5 L439.6 133.5 L441.6 134.3 L443.6 133.1 L444.9 136.3 L446.4 135.9 L448.3 135.6 L448.4 139.5 L450.1 142.7 L452.8 143.8 L451.2 145.0 L448.1 148.1 L445.6 149.9 L442.5 151.8 L441.2 154.3 L443.1 156.1 L446.8 156.8 L448.1 158.0 L445.0 159.9 L444.4 163.6 L442.5 165.4 L440.0 164.8 L437.5 166.7 L435.7 168.5 L433.2 169.1 L434.4 167.3 L435.1 163.6 L433.2 161.7 L430.7 160.5 L428.2 162.3 L428.2 166.0 L427.6 170.4 L426.4 173.5 L424.5 176.6 L422.7 174.7 L419.6 172.2 L417.1 170.4 L414.6 167.3 L411.5 164.8 L407.2 163.6 L402.8 163.0Z"/><path d="M449.2 114.8 L450.9 116.6 L451.7 119.0 L454.9 120.6 L458.1 121.8 L460.5 124.2 L464.5 125.4 L467.7 126.6 L469.2 127.0 L474.8 129.5 L479.7 133.2 L485.9 136.3 L490.9 138.2 L494.6 139.4 L499.6 139.4 L501.4 143.1 L500.2 146.8 L502.0 150.6 L503.9 153.0 L501.4 154.9 L498.9 156.1 L495.9 158.6 L495.2 162.3 L494.6 165.4 L493.4 167.9 L491.9 168.8 L490.5 168.6 L489.7 165.0 L487.7 163.0 L484.9 161.0 L481.7 159.0 L478.4 158.6 L475.2 159.4 L472.0 159.0 L470.0 156.6 L466.4 157.8 L463.2 158.6 L460.4 157.4 L458.8 156.2 L458.4 158.2 L459.2 161.0 L460.4 164.2 L459.6 166.2 L456.8 165.9 L454.8 164.2 L454.4 161.0 L455.6 157.8 L456.4 155.8 L458.0 154.6 L459.6 152.6 L460.8 149.8 L461.2 147.0 L459.2 145.0 L456.0 144.6 L452.8 143.8 L450.1 142.7 L448.4 139.5 L448.3 135.6 L449.2 134.3 L449.2 132.3 L447.6 129.9 L446.7 127.4 L446.1 125.1 L446.2 121.0 L447.2 117.0Z"/><path d="M499.6 139.4 L504.5 140.0 L508.2 143.1 L513.2 145.0 L518.1 146.2 L524.4 146.8 L529.3 147.5 L532.4 147.5 L531.2 151.2 L530.5 153.6 L529.3 156.8 L526.2 158.6 L524.4 161.7 L520.6 163.6 L517.5 163.0 L514.4 161.7 L510.7 163.0 L507.0 164.2 L503.3 164.2 L499.6 163.0 L495.2 162.3 L495.9 158.6 L498.9 156.1 L501.4 154.9 L503.9 153.0 L502.0 150.6 L500.2 146.8 L501.4 143.1Z"/><path d="M495.2 162.3 L499.6 163.0 L503.3 164.2 L507.0 164.2 L510.7 163.0 L514.4 161.7 L517.5 163.0 L520.6 163.6 L524.4 161.7 L526.2 158.6 L529.3 156.8 L529.3 161.1 L526.8 164.8 L523.1 167.9 L519.4 171.0 L515.1 174.1 L517.5 176.6 L514.4 178.4 L515.7 181.5 L513.2 183.4 L509.5 184.6 L506.4 182.1 L502.0 181.5 L500.8 178.4 L501.4 176.0 L499.6 172.2 L497.7 169.8 L495.9 167.3 L493.4 167.9 L494.6 165.4Z"/><path d="M532.4 147.5 L531.8 145.5 L532.4 143.6 L532.4 141.5 L534.9 141.8 L538.0 140.8 L538.0 143.0 L541.7 144.3 L545.4 146.1 L545.1 151.3 L543.5 151.1 L540.5 149.9 L538.0 148.0 L534.9 146.8 L533.4 148.4 L535.5 154.3 L538.6 157.4 L535.5 159.2 L532.4 163.0 L536.7 166.0 L538.2 172.2 L539.0 177.5 L539.3 183.7 L539.6 188.5 L534.7 188.9 L531.0 188.1 L527.8 188.2 L525.0 183.4 L521.2 179.7 L517.5 176.6 L515.1 174.1 L519.4 171.0 L523.1 167.9 L526.8 164.8 L529.3 161.1 L529.3 156.8 L530.5 153.6 L531.2 151.2Z"/><path d="M532.4 141.5 L531.8 138.1 L532.4 135.0 L536.1 133.7 L538.0 136.2 L538.0 140.8 L534.9 141.8Z"/><path d="M412.8 201.3 L411.5 198.8 L411.2 192.8 L410.6 189.1 L410.3 186.0 L409.6 183.2 L408.1 183.9 L407.5 186.0 L407.2 188.5 L406.2 191.0 L403.5 192.8 L400.4 194.4 L397.3 195.9 L394.8 195.6 L391.7 193.8 L388.6 191.0 L385.5 187.9 L382.4 184.8 L381.5 182.4 L382.4 181.7 L385.5 181.4 L388.6 180.1 L391.7 178.6 L393.5 177.0 L394.6 175.1 L392.3 174.9 L389.8 176.4 L386.7 177.7 L383.6 178.0 L380.5 176.7 L378.1 174.9 L376.2 172.4 L374.6 170.8 L376.2 168.7 L379.3 167.7 L379.9 165.9 L382.1 165.9 L384.9 165.9 L388.0 166.2 L390.4 165.9 L393.2 165.0 L394.8 165.9 L396.9 165.3 L398.5 163.6 L402.8 163.0 L407.2 163.6 L411.5 164.8 L414.6 167.3 L417.1 170.4 L419.6 172.2 L422.7 174.7 L424.5 176.6 L423.3 179.0 L422.7 182.7 L423.3 185.8 L421.4 187.7 L419.6 190.8 L420.2 194.5 L417.7 196.4 L415.9 199.5Z"/><path d="M424.5 176.6 L426.4 173.5 L427.6 170.4 L428.2 166.0 L428.2 162.3 L430.7 160.5 L433.2 161.7 L435.1 163.6 L434.4 167.3 L433.2 169.1 L435.7 168.5 L437.5 166.7 L440.0 164.8 L442.5 165.4 L444.4 163.6 L445.0 159.9 L448.1 158.0 L446.8 156.8 L443.1 156.1 L441.2 154.3 L442.5 151.8 L445.6 149.9 L448.1 148.1 L451.2 145.0 L452.8 143.8 L456.0 144.6 L459.2 145.0 L461.2 147.0 L460.8 149.8 L459.6 152.6 L458.0 154.6 L456.4 155.8 L455.6 157.8 L454.4 161.0 L454.8 164.2 L456.8 165.9 L459.6 166.2 L460.4 164.2 L459.2 161.0 L458.4 158.2 L458.8 156.2 L460.4 157.4 L463.2 158.6 L466.4 157.8 L470.0 156.6 L472.0 159.0 L475.2 159.4 L478.4 158.6 L481.7 159.0 L484.9 161.0 L487.7 163.0 L489.7 165.0 L490.5 168.6 L486.9 169.5 L481.7 169.5 L481.3 171.9 L484.5 173.5 L484.9 175.1 L482.9 177.9 L480.9 180.3 L477.6 181.5 L475.6 185.1 L474.8 188.9 L468.6 188.3 L464.2 187.7 L459.2 188.9 L454.3 188.9 L449.3 190.1 L446.2 188.3 L441.9 189.5 L438.1 192.6 L434.4 190.1 L429.5 190.1 L425.1 188.3 L423.3 185.8 L422.7 182.7 L423.3 179.0Z"/><path d="M474.8 188.9 L475.6 185.1 L477.6 181.5 L480.9 180.3 L482.9 177.9 L484.9 175.1 L484.5 173.5 L481.3 171.9 L481.7 169.5 L486.9 169.5 L490.5 168.6 L491.9 168.8 L493.4 167.9 L495.9 167.3 L497.7 169.8 L499.6 172.2 L501.4 176.0 L500.8 178.4 L497.7 184.0 L494.0 187.7 L493.4 191.4 L489.6 192.6 L487.2 195.7 L487.8 201.3 L484.1 201.9 L485.3 205.6 L484.7 210.0 L482.8 213.7 L480.4 218.6 L479.5 219.9 L476.0 216.8 L472.9 213.7 L471.7 210.4 L474.8 206.9 L472.3 203.8 L473.5 198.8 L472.9 193.9Z"/><path d="M500.8 178.4 L502.0 181.5 L506.4 182.1 L509.5 184.6 L513.2 183.4 L515.7 181.5 L514.4 178.4 L517.5 176.6 L521.2 179.7 L525.0 183.4 L527.8 188.2 L523.1 191.4 L522.5 195.7 L521.2 199.5 L517.5 202.5 L512.0 205.6 L508.2 208.1 L505.1 210.0 L502.0 211.8 L498.9 210.6 L496.5 210.0 L493.4 213.1 L490.9 214.9 L487.2 216.2 L484.1 217.4 L479.5 219.9 L480.4 218.6 L482.8 213.7 L484.7 210.0 L485.3 205.6 L484.1 201.9 L487.8 201.3 L487.2 195.7 L489.6 192.6 L493.4 191.4 L494.0 187.7 L497.7 184.0Z"/><path d="M419.3 238.0 L417.7 234.8 L416.5 229.8 L414.6 222.4 L414.0 216.2 L412.8 210.0 L411.5 203.8 L412.8 201.3 L415.9 199.5 L417.7 196.4 L420.2 194.5 L419.6 190.8 L421.4 187.7 L423.3 185.8 L425.1 188.3 L429.5 190.1 L434.4 190.1 L438.1 192.6 L441.9 189.5 L446.2 188.3 L449.3 190.1 L454.3 188.9 L459.2 188.9 L464.2 187.7 L468.6 188.3 L474.8 188.9 L472.9 193.9 L473.5 198.8 L472.3 203.8 L474.8 206.9 L471.7 210.4 L469.8 211.5 L468.6 207.5 L464.2 205.6 L464.2 206.3 L459.2 204.4 L454.9 203.8 L451.8 207.5 L451.2 211.2 L449.3 214.9 L445.6 216.2 L442.5 218.6 L439.4 221.8 L435.1 223.6 L433.2 226.7 L429.5 228.0 L425.1 230.4 L423.3 233.5 L423.1 239.3Z"/><path d="M449.3 214.9 L451.2 211.2 L451.8 207.5 L454.9 203.8 L459.2 204.4 L464.2 206.3 L464.2 205.6 L468.6 207.5 L469.8 211.5 L471.7 210.4 L472.9 213.7 L476.0 216.8 L479.5 219.9 L476.6 222.4 L477.9 224.9 L473.5 226.7 L471.7 228.0 L468.6 228.6 L464.9 230.4 L465.4 231.0 L460.5 233.5 L455.5 235.4 L450.6 236.6 L448.7 234.8 L448.1 229.8 L449.3 224.9 L449.9 219.9Z"/><path d="M450.6 236.6 L455.5 235.4 L460.5 233.5 L465.4 231.0 L464.9 230.4 L468.6 228.6 L471.7 228.0 L473.5 226.7 L477.9 224.9 L476.6 222.4 L479.5 219.9 L484.1 217.4 L487.2 216.2 L490.9 214.9 L493.4 213.1 L496.5 210.0 L498.9 210.6 L502.0 211.8 L505.1 210.0 L502.0 214.9 L497.1 219.3 L492.1 223.0 L487.2 226.7 L485.9 229.8 L482.8 231.7 L479.1 233.5 L476.0 237.2 L472.9 238.5 L470.4 241.0 L469.8 245.9 L470.3 250.9 L471.2 256.9 L467.5 257.5 L463.8 258.8 L460.7 260.0 L457.0 260.6 L455.1 258.2 L453.3 256.3 L450.8 253.8 L447.7 253.8 L445.9 251.4 L444.0 249.5 L443.4 245.1 L443.7 244.7 L445.0 241.0 L446.8 237.2Z"/><path d="M423.1 239.3 L423.3 233.5 L425.1 230.4 L429.5 228.0 L433.2 226.7 L435.1 223.6 L439.4 221.8 L442.5 218.6 L445.6 216.2 L449.3 214.9 L449.9 219.9 L449.3 224.9 L448.1 229.8 L448.7 234.8 L450.6 236.6 L446.8 237.2 L445.0 241.0 L443.7 244.7 L443.4 245.1 L444.0 249.5 L445.9 251.4 L447.7 253.8 L450.8 253.8 L453.3 256.3 L455.1 258.2 L457.0 260.6 L455.1 261.9 L452.0 263.1 L449.6 265.6 L450.8 269.3 L447.7 271.2 L443.4 272.4 L439.6 273.6 L435.9 270.6 L432.8 267.5 L429.1 264.4 L427.9 261.9 L426.6 256.3 L424.2 250.1 L421.7 244.5 L423.1 243.3Z"/><path d="M419.3 238.0 L423.1 239.3 L423.1 243.3 L421.7 244.5 L419.8 240.8Z"/><path d="M429.1 264.4 L432.8 267.5 L435.9 270.6 L439.6 273.6 L441.5 277.4 L443.4 281.1 L444.0 284.8 L446.5 287.3 L447.1 292.2 L446.8 297.2 L446.7 301.3 L445.2 299.7 L442.1 295.3 L439.6 289.8 L437.2 283.6 L434.7 276.8 L431.6 269.9Z"/><path d="M439.6 273.6 L443.4 272.4 L447.7 271.2 L450.8 269.3 L449.6 265.6 L452.0 263.1 L455.1 261.9 L457.0 260.6 L460.7 260.0 L463.8 258.8 L467.5 257.5 L471.2 256.9 L470.6 261.3 L468.8 266.2 L466.9 269.9 L467.5 276.1 L467.5 283.6 L464.4 286.0 L462.6 289.1 L460.7 291.6 L463.8 292.9 L459.5 293.7 L456.4 295.3 L454.5 298.4 L452.7 301.5 L449.6 302.9 L446.7 301.3 L446.8 297.2 L447.1 292.2 L446.5 287.3 L444.0 284.8 L443.4 281.1 L441.5 277.4Z"/><path d="M545.4 146.1 L549.1 144.3 L555.9 144.3 L563.4 143.6 L568.3 143.6 L573.3 143.0 L577.0 141.8 L579.5 139.9 L583.2 138.1 L587.5 136.2 L592.5 135.0 L593.1 136.8 L591.9 139.9 L588.1 142.4 L587.5 144.6 L584.4 145.5 L580.7 148.0 L577.6 151.1 L574.3 155.0 L573.3 156.7 L571.4 159.8 L570.8 164.7 L569.0 166.0 L566.0 166.0 L563.4 164.7 L565.2 163.5 L565.9 161.0 L567.7 158.5 L567.7 156.7 L565.9 154.2 L565.2 151.7 L562.1 151.1 L558.4 152.3 L555.9 153.0 L552.8 151.7 L549.1 152.3 L545.6 152.6 L545.1 151.3Z"/><path d="M563.4 143.6 L562.1 139.9 L559.6 136.8 L562.8 134.4 L567.7 133.7 L572.0 130.0 L577.0 128.2 L580.7 124.4 L585.7 123.8 L590.0 124.4 L594.4 122.0 L597.5 124.4 L597.5 128.2 L601.8 130.6 L604.9 133.1 L603.6 137.5 L600.5 138.7 L601.8 141.8 L599.3 140.6 L595.6 140.6 L593.1 142.4 L590.6 143.9 L587.5 144.6 L588.1 142.4 L591.9 139.9 L593.1 136.8 L592.5 135.0 L587.5 136.2 L583.2 138.1 L579.5 139.9 L577.0 141.8 L573.3 143.0 L568.3 143.6Z"/><path d="M587.5 144.6 L590.6 143.9 L588.4 148.6 L587.5 151.7 L584.7 155.4 L580.7 154.8 L577.0 156.0 L574.3 155.0 L577.6 151.1 L580.7 148.0 L584.4 145.5Z"/><path d="M574.3 155.0 L577.0 156.0 L580.7 154.8 L584.7 155.4 L583.2 161.0 L581.3 166.0 L579.5 169.1 L575.1 167.4 L572.1 167.3 L570.8 164.7 L571.4 159.8 L573.3 156.7Z"/><path d="M570.8 164.7 L572.1 167.3 L573.7 173.8 L572.5 178.8 L571.2 183.7 L567.5 185.0 L566.3 178.8 L565.1 172.6 L564.4 168.2 L566.0 166.0 L569.0 166.0Z"/><path d="M566.0 166.0 L564.4 168.2 L563.2 170.1 L561.3 172.6 L560.1 176.3 L557.6 175.7 L556.4 172.0 L556.8 168.9 L559.5 166.4 L563.4 164.7Z"/><path d="M545.6 152.6 L549.1 152.3 L552.8 151.7 L555.9 153.0 L558.4 152.3 L562.1 151.1 L565.2 151.7 L565.9 154.2 L567.7 156.7 L567.7 158.5 L563.4 159.1 L558.4 158.5 L553.5 157.9 L548.5 157.9 L545.4 157.3Z"/></g><path d="M570.1 255.2 L570.9 259.0 L570.4 264.0 L571.3 267.5 L569.9 270.5 L568.5 275.3 L567.2 274.9 L566.8 271.0 L567.6 266.0 L568.1 261.0 L569.0 257.5Z" fill="#0a0a0a"/><ellipse cx="566.3" cy="280.6" rx="1.0" ry="1.4" transform="rotate(10 566.3 280.6)" fill="#0a0a0a"/><ellipse cx="564.0" cy="273.0" rx="0.7" ry="0.6" transform="rotate(0 564.0 273.0)" fill="#0a0a0a"/><ellipse cx="568.4" cy="293.4" rx="0.8" ry="0.8" transform="rotate(0 568.4 293.4)" fill="#0a0a0a"/><ellipse cx="573.6" cy="302.6" rx="1.3" ry="1.6" transform="rotate(20 573.6 302.6)" fill="#0a0a0a"/><ellipse cx="574.9" cy="298.8" rx="0.8" ry="0.8" transform="rotate(0 574.9 298.8)" fill="#0a0a0a"/><ellipse cx="571.3" cy="300.8" rx="0.8" ry="0.8" transform="rotate(0 571.3 300.8)" fill="#0a0a0a"/><ellipse cx="576.3" cy="311.1" rx="1.1" ry="2.0" transform="rotate(-20 576.3 311.1)" fill="#0a0a0a"/><circle cx="411.8" cy="276.1" r="0.6" fill="#555"/><circle cx="407.4" cy="279.2" r="0.6" fill="#555"/><circle cx="418.6" cy="279.8" r="0.6" fill="#555"/><circle cx="418.6" cy="285.4" r="0.6" fill="#555"/><circle cx="413.6" cy="300.9" r="0.6" fill="#555"/><circle cx="411.2" cy="273.7" r="0.6" fill="#555"/><circle cx="408.1" cy="286.0" r="0.6" fill="#555"/><path d="M531.0 184.4 L532.5 183.5 L534.1 184.7 L535.9 183.7 L539.4 184.4 L539.7 188.7 L531.0 188.9Z" fill="#000"/><g font-family="Liberation Sans, sans-serif" fill="#444" font-size="8"><text x="343.5" y="121.1" text-anchor="end">30°N</text><text x="343.5" y="204.8" text-anchor="end">20°N</text><text x="343.5" y="289.0" text-anchor="end">10°N</text><text x="389.4" y="323.4" text-anchor="middle">70°E</text><text x="467.8" y="323.4" text-anchor="middle">80°E</text><text x="546.6" y="323.4" text-anchor="middle">90°E</text><text x="624.7" y="323.4" text-anchor="middle">100°E</text></g><g font-family="Liberation Sans, sans-serif" fill="#1a1a1a" font-size="9"><text x="489.5" y="339.0" text-anchor="middle">Longitude</text><text transform="translate(319.3 186.5) rotate(-90)" text-anchor="middle">Latitude</text><text x="648" y="137.0">Total</text><text x="648" y="149.1">Rainfall</text><text x="648" y="161.2">(mm)</text></g><rect x="648" y="166.4" width="10.3" height="77" fill="url(#lg)"/><g font-family="Liberation Sans, sans-serif" fill="#444" font-size="8"><text x="661.3" y="188.9">4000</text><path d="M658.3 186.0 h1.5" stroke="#333" stroke-width="0.5"/><text x="661.3" y="218.3">2000</text><path d="M658.3 215.4 h1.5" stroke="#333" stroke-width="0.5"/></g><g stroke="#050505" stroke-width="0.95" stroke-linejoin="round" filter="url(#jag2)"><path d="M421.1 450.1 L414.9 444.2 L409.9 441.7 L413.0 437.4 L418.6 435.5 L426.0 433.9 L432.2 434.3 L435.9 437.4 L440.9 440.5 L445.2 444.2 L448.9 447.3 L453.3 446.7 L458.2 444.2 L463.8 443.3 L469.4 444.8 L470.9 447.9 L469.4 451.6 L466.3 455.4 L463.2 458.5 L460.7 460.9 L460.7 464.6 L463.8 467.1 L464.4 470.2 L461.3 472.7 L458.2 471.1 L454.5 471.0 L449.6 467.8 L445.2 466.5 L441.5 464.6 L438.4 461.6 L434.7 457.2 L431.0 453.5 L426.6 451.0 L422.3 449.8Z" fill="#e7e426"/><path d="M421.1 450.1 L422.3 449.8 L426.6 451.0 L431.0 453.5 L434.7 457.2 L438.4 461.6 L441.5 464.6 L436.6 470.2 L434.0 474.2 L431.6 473.0 L427.2 471.8 L426.0 469.8 L419.2 467.1 L418.0 460.9 L417.4 455.4Z" fill="#79d151"/><path d="M434.0 474.2 L436.6 470.2 L441.5 464.6 L445.2 466.5 L449.6 467.8 L454.5 471.0 L456.9 473.8 L458.1 477.8 L458.6 482.5 L454.9 483.8 L451.7 485.0 L450.9 487.4 L450.1 489.8 L449.2 490.8 L446.9 489.0 L444.9 486.8 L442.8 484.2 L440.4 481.8 L438.0 479.0 L435.6 476.2Z" fill="#79d151"/><path d="M434.0 474.2 L435.6 476.2 L438.0 479.0 L440.4 481.8 L442.8 484.2 L444.9 486.8 L444.4 488.2 L442.8 490.6 L439.6 492.2 L437.2 493.8 L434.0 494.6 L431.2 495.8 L428.8 494.2 L425.6 494.0 L422.8 493.0 L420.4 491.8 L421.6 489.0 L424.0 486.6 L426.0 483.8 L425.2 480.6 L426.0 477.8 L429.6 476.2Z" fill="#9ed93a"/><path d="M425.6 494.0 L428.8 494.2 L431.2 495.8 L434.0 494.6 L437.2 493.8 L439.6 492.2 L442.8 490.6 L444.4 488.2 L444.9 486.8 L446.9 489.0 L449.2 490.8 L447.2 493.0 L446.2 497.0 L446.1 501.1 L446.7 503.4 L447.6 505.9 L449.2 508.3 L449.2 510.3 L448.3 511.6 L446.4 511.9 L444.9 512.3 L443.6 509.1 L441.6 510.3 L439.6 509.5 L437.6 511.5 L436.8 508.7 L434.4 505.9 L433.2 502.6 L431.6 499.9 L428.8 498.6 L426.4 497.0Z" fill="#a5da36"/><path d="M458.6 482.5 L461.3 481.4 L462.1 483.4 L465.3 485.0 L468.5 486.2 L476.0 491.9 L472.9 496.2 L470.4 500.5 L469.2 503.0 L467.7 502.6 L464.5 501.4 L460.5 500.2 L458.1 497.8 L454.9 496.6 L451.7 495.0 L450.9 492.6 L449.2 490.8 L450.1 489.8 L450.9 487.4 L451.7 485.0 L454.9 483.8Z" fill="#5ac664"/><path d="M398.5 539.6 L396.6 536.5 L394.8 532.1 L392.9 529.6 L391.1 527.2 L390.4 523.5 L387.4 521.6 L386.7 519.1 L389.2 515.4 L391.7 511.7 L394.2 510.4 L396.6 512.3 L401.0 511.7 L404.7 509.8 L408.4 504.2 L413.4 500.5 L417.1 495.0 L420.4 491.8 L422.8 493.0 L425.6 494.0 L426.4 497.0 L428.8 498.6 L431.6 499.9 L433.2 502.6 L434.4 505.9 L436.8 508.7 L437.6 511.5 L439.6 509.5 L441.6 510.3 L443.6 509.1 L444.9 512.3 L446.4 511.9 L448.3 511.6 L448.4 515.5 L450.1 518.7 L452.8 519.8 L451.2 521.0 L448.1 524.1 L445.6 525.9 L442.5 527.8 L441.2 530.3 L443.1 532.1 L446.8 532.8 L448.1 534.0 L445.0 535.9 L444.4 539.6 L442.5 541.4 L440.0 540.8 L437.5 542.7 L435.7 544.5 L433.2 545.1 L434.4 543.3 L435.1 539.6 L433.2 537.7 L430.7 536.5 L428.2 538.3 L428.2 542.0 L427.6 546.4 L426.4 549.5 L424.5 552.6 L422.7 550.7 L419.6 548.2 L417.1 546.4 L414.6 543.3 L411.5 540.8 L407.2 539.6 L402.8 539.0Z" fill="#b7de2a"/><path d="M449.2 490.8 L450.9 492.6 L451.7 495.0 L454.9 496.6 L458.1 497.8 L460.5 500.2 L464.5 501.4 L467.7 502.6 L469.2 503.0 L474.8 505.5 L479.7 509.2 L485.9 512.3 L490.9 514.2 L494.6 515.4 L499.6 515.4 L501.4 519.1 L500.2 522.8 L502.0 526.6 L503.9 529.0 L501.4 530.9 L498.9 532.1 L495.9 534.6 L495.2 538.3 L494.6 541.4 L493.4 543.9 L491.9 544.8 L490.5 544.6 L489.7 541.0 L487.7 539.0 L484.9 537.0 L481.7 535.0 L478.4 534.6 L475.2 535.4 L472.0 535.0 L470.0 532.6 L466.4 533.8 L463.2 534.6 L460.4 533.4 L458.8 532.2 L458.4 534.2 L459.2 537.0 L460.4 540.2 L459.6 542.2 L456.8 541.9 L454.8 540.2 L454.4 537.0 L455.6 533.8 L456.4 531.8 L458.0 530.6 L459.6 528.6 L460.8 525.8 L461.2 523.0 L459.2 521.0 L456.0 520.6 L452.8 519.8 L450.1 518.7 L448.4 515.5 L448.3 511.6 L449.2 510.3 L449.2 508.3 L447.6 505.9 L446.7 503.4 L446.1 501.1 L446.2 497.0 L447.2 493.0Z" fill="#7fd24e"/><path d="M499.6 515.4 L504.5 516.0 L508.2 519.1 L513.2 521.0 L518.1 522.2 L524.4 522.8 L529.3 523.5 L532.4 523.5 L531.2 527.2 L530.5 529.6 L529.3 532.8 L526.2 534.6 L524.4 537.7 L520.6 539.6 L517.5 539.0 L514.4 537.7 L510.7 539.0 L507.0 540.2 L503.3 540.2 L499.6 539.0 L495.2 538.3 L495.9 534.6 L498.9 532.1 L501.4 530.9 L503.9 529.0 L502.0 526.6 L500.2 522.8 L501.4 519.1Z" fill="#5fc861"/><path d="M495.2 538.3 L499.6 539.0 L503.3 540.2 L507.0 540.2 L510.7 539.0 L514.4 537.7 L517.5 539.0 L520.6 539.6 L524.4 537.7 L526.2 534.6 L529.3 532.8 L529.3 537.1 L526.8 540.8 L523.1 543.9 L519.4 547.0 L515.1 550.1 L517.5 552.6 L514.4 554.4 L515.7 557.5 L513.2 559.4 L509.5 560.6 L506.4 558.1 L502.0 557.5 L500.8 554.4 L501.4 552.0 L499.6 548.2 L497.7 545.8 L495.9 543.3 L493.4 543.9 L494.6 541.4Z" fill="#5fc861"/><path d="M532.4 523.5 L531.8 521.5 L532.4 519.6 L532.4 517.5 L534.9 517.8 L538.0 516.8 L538.0 519.0 L541.7 520.3 L545.4 522.1 L545.1 527.3 L543.5 527.1 L540.5 525.9 L538.0 524.0 L534.9 522.8 L533.4 524.4 L535.5 530.3 L538.6 533.4 L535.5 535.2 L532.4 539.0 L536.7 542.0 L538.2 548.2 L539.0 553.5 L539.3 559.7 L539.6 564.5 L534.7 564.9 L531.0 564.1 L527.8 564.2 L525.0 559.4 L521.2 555.7 L517.5 552.6 L515.1 550.1 L519.4 547.0 L523.1 543.9 L526.8 540.8 L529.3 537.1 L529.3 532.8 L530.5 529.6 L531.2 527.2Z" fill="#31b37b"/><path d="M532.4 517.5 L531.8 514.1 L532.4 511.0 L536.1 509.7 L538.0 512.2 L538.0 516.8 L534.9 517.8Z" fill="#79d151"/><path d="M412.8 577.3 L411.5 574.8 L411.2 568.8 L410.6 565.1 L410.3 562.0 L409.6 559.2 L408.1 559.9 L407.5 562.0 L407.2 564.5 L406.2 567.0 L403.5 568.8 L400.4 570.4 L397.3 571.9 L394.8 571.6 L391.7 569.8 L388.6 567.0 L385.5 563.9 L382.4 560.8 L381.5 558.4 L382.4 557.7 L385.5 557.4 L388.6 556.1 L391.7 554.6 L393.5 553.0 L394.6 551.1 L392.3 550.9 L389.8 552.4 L386.7 553.7 L383.6 554.0 L380.5 552.7 L378.1 550.9 L376.2 548.4 L374.6 546.8 L376.2 544.7 L379.3 543.7 L379.9 541.9 L382.1 541.9 L384.9 541.9 L388.0 542.2 L390.4 541.9 L393.2 541.0 L394.8 541.9 L396.9 541.3 L398.5 539.6 L402.8 539.0 L407.2 539.6 L411.5 540.8 L414.6 543.3 L417.1 546.4 L419.6 548.2 L422.7 550.7 L424.5 552.6 L423.3 555.0 L422.7 558.7 L423.3 561.8 L421.4 563.7 L419.6 566.8 L420.2 570.5 L417.7 572.4 L415.9 575.5Z" fill="#8ed544"/><path d="M424.5 552.6 L426.4 549.5 L427.6 546.4 L428.2 542.0 L428.2 538.3 L430.7 536.5 L433.2 537.7 L435.1 539.6 L434.4 543.3 L433.2 545.1 L435.7 544.5 L437.5 542.7 L440.0 540.8 L442.5 541.4 L444.4 539.6 L445.0 535.9 L448.1 534.0 L446.8 532.8 L443.1 532.1 L441.2 530.3 L442.5 527.8 L445.6 525.9 L448.1 524.1 L451.2 521.0 L452.8 519.8 L456.0 520.6 L459.2 521.0 L461.2 523.0 L460.8 525.8 L459.6 528.6 L458.0 530.6 L456.4 531.8 L455.6 533.8 L454.4 537.0 L454.8 540.2 L456.8 541.9 L459.6 542.2 L460.4 540.2 L459.2 537.0 L458.4 534.2 L458.8 532.2 L460.4 533.4 L463.2 534.6 L466.4 533.8 L470.0 532.6 L472.0 535.0 L475.2 535.4 L478.4 534.6 L481.7 535.0 L484.9 537.0 L487.7 539.0 L489.7 541.0 L490.5 544.6 L486.9 545.5 L481.7 545.5 L481.3 547.9 L484.5 549.5 L484.9 551.1 L482.9 553.9 L480.9 556.3 L477.6 557.5 L475.6 561.1 L474.8 564.9 L468.6 564.3 L464.2 563.7 L459.2 564.9 L454.3 564.9 L449.3 566.1 L446.2 564.3 L441.9 565.5 L438.1 568.6 L434.4 566.1 L429.5 566.1 L425.1 564.3 L423.3 561.8 L422.7 558.7 L423.3 555.0Z" fill="#66cb5c"/><path d="M474.8 564.9 L475.6 561.1 L477.6 557.5 L480.9 556.3 L482.9 553.9 L484.9 551.1 L484.5 549.5 L481.3 547.9 L481.7 545.5 L486.9 545.5 L490.5 544.6 L491.9 544.8 L493.4 543.9 L495.9 543.3 L497.7 545.8 L499.6 548.2 L501.4 552.0 L500.8 554.4 L497.7 560.0 L494.0 563.7 L493.4 567.4 L489.6 568.6 L487.2 571.7 L487.8 577.3 L484.1 577.9 L485.3 581.6 L484.7 586.0 L482.8 589.7 L480.4 594.6 L479.5 595.9 L476.0 592.8 L472.9 589.7 L471.7 586.4 L474.8 582.9 L472.3 579.8 L473.5 574.8 L472.9 569.9Z" fill="#57c566"/><path d="M500.8 554.4 L502.0 557.5 L506.4 558.1 L509.5 560.6 L513.2 559.4 L515.7 557.5 L514.4 554.4 L517.5 552.6 L521.2 555.7 L525.0 559.4 L527.8 564.2 L523.1 567.4 L522.5 571.7 L521.2 575.5 L517.5 578.5 L512.0 581.6 L508.2 584.1 L505.1 586.0 L502.0 587.8 L498.9 586.6 L496.5 586.0 L493.4 589.1 L490.9 590.9 L487.2 592.2 L484.1 593.4 L479.5 595.9 L480.4 594.6 L482.8 589.7 L484.7 586.0 L485.3 581.6 L484.1 577.9 L487.8 577.3 L487.2 571.7 L489.6 568.6 L493.4 567.4 L494.0 563.7 L497.7 560.0Z" fill="#4ec36a"/><path d="M419.3 614.0 L417.7 610.8 L416.5 605.8 L414.6 598.4 L414.0 592.2 L412.8 586.0 L411.5 579.8 L412.8 577.3 L415.9 575.5 L417.7 572.4 L420.2 570.5 L419.6 566.8 L421.4 563.7 L423.3 561.8 L425.1 564.3 L429.5 566.1 L434.4 566.1 L438.1 568.6 L441.9 565.5 L446.2 564.3 L449.3 566.1 L454.3 564.9 L459.2 564.9 L464.2 563.7 L468.6 564.3 L474.8 564.9 L472.9 569.9 L473.5 574.8 L472.3 579.8 L474.8 582.9 L471.7 586.4 L469.8 587.5 L468.6 583.5 L464.2 581.6 L464.2 582.3 L459.2 580.4 L454.9 579.8 L451.8 583.5 L451.2 587.2 L449.3 590.9 L445.6 592.2 L442.5 594.6 L439.4 597.8 L435.1 599.6 L433.2 602.7 L429.5 604.0 L425.1 606.4 L423.3 609.5 L423.1 615.3Z" fill="#66cb5c"/><path d="M449.3 590.9 L451.2 587.2 L451.8 583.5 L454.9 579.8 L459.2 580.4 L464.2 582.3 L464.2 581.6 L468.6 583.5 L469.8 587.5 L471.7 586.4 L472.9 589.7 L476.0 592.8 L479.5 595.9 L476.6 598.4 L477.9 600.9 L473.5 602.7 L471.7 604.0 L468.6 604.6 L464.9 606.4 L465.4 607.0 L460.5 609.5 L455.5 611.4 L450.6 612.6 L448.7 610.8 L448.1 605.8 L449.3 600.9 L449.9 595.9Z" fill="#6ccc59"/><path d="M450.6 612.6 L455.5 611.4 L460.5 609.5 L465.4 607.0 L464.9 606.4 L468.6 604.6 L471.7 604.0 L473.5 602.7 L477.9 600.9 L476.6 598.4 L479.5 595.9 L484.1 593.4 L487.2 592.2 L490.9 590.9 L493.4 589.1 L496.5 586.0 L498.9 586.6 L502.0 587.8 L505.1 586.0 L502.0 590.9 L497.1 595.3 L492.1 599.0 L487.2 602.7 L485.9 605.8 L482.8 607.7 L479.1 609.5 L476.0 613.2 L472.9 614.5 L470.4 617.0 L469.8 621.9 L470.3 626.9 L471.2 632.9 L467.5 633.5 L463.8 634.8 L460.7 636.0 L457.0 636.6 L455.1 634.2 L453.3 632.3 L450.8 629.8 L447.7 629.8 L445.9 627.4 L444.0 625.5 L443.4 621.1 L443.7 620.7 L445.0 617.0 L446.8 613.2Z" fill="#7cd150"/><path d="M423.1 615.3 L423.3 609.5 L425.1 606.4 L429.5 604.0 L433.2 602.7 L435.1 599.6 L439.4 597.8 L442.5 594.6 L445.6 592.2 L449.3 590.9 L449.9 595.9 L449.3 600.9 L448.1 605.8 L448.7 610.8 L450.6 612.6 L446.8 613.2 L445.0 617.0 L443.7 620.7 L443.4 621.1 L444.0 625.5 L445.9 627.4 L447.7 629.8 L450.8 629.8 L453.3 632.3 L455.1 634.2 L457.0 636.6 L455.1 637.9 L452.0 639.1 L449.6 641.6 L450.8 645.3 L447.7 647.2 L443.4 648.4 L439.6 649.6 L435.9 646.6 L432.8 643.5 L429.1 640.4 L427.9 637.9 L426.6 632.3 L424.2 626.1 L421.7 620.5 L423.1 619.3Z" fill="#6ccc59"/><path d="M419.3 614.0 L423.1 615.3 L423.1 619.3 L421.7 620.5 L419.8 616.8Z" fill="#2b758e"/><path d="M429.1 640.4 L432.8 643.5 L435.9 646.6 L439.6 649.6 L441.5 653.4 L443.4 657.1 L444.0 660.8 L446.5 663.3 L447.1 668.2 L446.8 673.2 L446.7 677.3 L445.2 675.7 L442.1 671.3 L439.6 665.8 L437.2 659.6 L434.7 652.8 L431.6 645.9Z" fill="#26838d"/><path d="M439.6 649.6 L443.4 648.4 L447.7 647.2 L450.8 645.3 L449.6 641.6 L452.0 639.1 L455.1 637.9 L457.0 636.6 L460.7 636.0 L463.8 634.8 L467.5 633.5 L471.2 632.9 L470.6 637.3 L468.8 642.2 L466.9 645.9 L467.5 652.1 L467.5 659.6 L464.4 662.0 L462.6 665.1 L460.7 667.6 L463.8 668.9 L459.5 669.7 L456.4 671.3 L454.5 674.4 L452.7 677.5 L449.6 678.9 L446.7 677.3 L446.8 673.2 L447.1 668.2 L446.5 663.3 L444.0 660.8 L443.4 657.1 L441.5 653.4Z" fill="#61c960"/><path d="M545.4 522.1 L549.1 520.3 L555.9 520.3 L563.4 519.6 L568.3 519.6 L573.3 519.0 L577.0 517.8 L579.5 515.9 L583.2 514.1 L587.5 512.2 L592.5 511.0 L593.1 512.8 L591.9 515.9 L588.1 518.4 L587.5 520.6 L584.4 521.5 L580.7 524.0 L577.6 527.1 L574.3 531.0 L573.3 532.7 L571.4 535.8 L570.8 540.7 L569.0 542.0 L566.0 542.0 L563.4 540.7 L565.2 539.5 L565.9 537.0 L567.7 534.5 L567.7 532.7 L565.9 530.2 L565.2 527.7 L562.1 527.1 L558.4 528.3 L555.9 529.0 L552.8 527.7 L549.1 528.3 L545.6 528.6 L545.1 527.3Z" fill="#22a485"/><path d="M563.4 519.6 L562.1 515.9 L559.6 512.8 L562.8 510.4 L567.7 509.7 L572.0 506.0 L577.0 504.2 L580.7 500.4 L585.7 499.8 L590.0 500.4 L594.4 498.0 L597.5 500.4 L597.5 504.2 L601.8 506.6 L604.9 509.1 L603.6 513.5 L600.5 514.7 L601.8 517.8 L599.3 516.6 L595.6 516.6 L593.1 518.4 L590.6 519.9 L587.5 520.6 L588.1 518.4 L591.9 515.9 L593.1 512.8 L592.5 511.0 L587.5 512.2 L583.2 514.1 L579.5 515.9 L577.0 517.8 L573.3 519.0 L568.3 519.6Z" fill="#45c070"/><path d="M587.5 520.6 L590.6 519.9 L588.4 524.6 L587.5 527.7 L584.7 531.4 L580.7 530.8 L577.0 532.0 L574.3 531.0 L577.6 527.1 L580.7 524.0 L584.4 521.5Z" fill="#41be72"/><path d="M574.3 531.0 L577.0 532.0 L580.7 530.8 L584.7 531.4 L583.2 537.0 L581.3 542.0 L579.5 545.1 L575.1 543.4 L572.1 543.3 L570.8 540.7 L571.4 535.8 L573.3 532.7Z" fill="#5fc861"/><path d="M570.8 540.7 L572.1 543.3 L573.7 549.8 L572.5 554.8 L571.2 559.7 L567.5 561.0 L566.3 554.8 L565.1 548.6 L564.4 544.2 L566.0 542.0 L569.0 542.0Z" fill="#219a89"/><path d="M566.0 542.0 L564.4 544.2 L563.2 546.1 L561.3 548.6 L560.1 552.3 L557.6 551.7 L556.4 548.0 L556.8 544.9 L559.5 542.4 L563.4 540.7Z" fill="#25858d"/><path d="M545.6 528.6 L549.1 528.3 L552.8 527.7 L555.9 529.0 L558.4 528.3 L562.1 527.1 L565.2 527.7 L565.9 530.2 L567.7 532.7 L567.7 534.5 L563.4 535.1 L558.4 534.5 L553.5 533.9 L548.5 533.9 L545.4 533.3Z" fill="#24878d"/></g><path d="M570.1 631.2 L570.9 635.0 L570.4 640.0 L571.3 643.5 L569.9 646.5 L568.5 651.3 L567.2 650.9 L566.8 647.0 L567.6 642.0 L568.1 637.0 L569.0 633.5Z" fill="#0a0a0a"/><ellipse cx="566.3" cy="656.6" rx="1.0" ry="1.4" transform="rotate(10 566.3 656.6)" fill="#0a0a0a"/><ellipse cx="564.0" cy="649.0" rx="0.7" ry="0.6" transform="rotate(0 564.0 649.0)" fill="#0a0a0a"/><ellipse cx="568.4" cy="669.4" rx="0.8" ry="0.8" transform="rotate(0 568.4 669.4)" fill="#0a0a0a"/><ellipse cx="573.6" cy="678.6" rx="1.3" ry="1.6" transform="rotate(20 573.6 678.6)" fill="#0a0a0a"/><ellipse cx="574.9" cy="674.8" rx="0.8" ry="0.8" transform="rotate(0 574.9 674.8)" fill="#0a0a0a"/><ellipse cx="571.3" cy="676.8" rx="0.8" ry="0.8" transform="rotate(0 571.3 676.8)" fill="#0a0a0a"/><ellipse cx="576.3" cy="687.1" rx="1.1" ry="2.0" transform="rotate(-20 576.3 687.1)" fill="#0a0a0a"/><circle cx="411.8" cy="652.1" r="0.6" fill="#555"/><circle cx="407.4" cy="655.2" r="0.6" fill="#555"/><circle cx="418.6" cy="655.8" r="0.6" fill="#555"/><circle cx="418.6" cy="661.4" r="0.6" fill="#555"/><circle cx="413.6" cy="676.9" r="0.6" fill="#555"/><circle cx="411.2" cy="649.7" r="0.6" fill="#555"/><circle cx="408.1" cy="662.0" r="0.6" fill="#555"/><path d="M531.0 560.4 L532.5 559.5 L534.1 560.7 L535.9 559.7 L539.4 560.4 L539.7 564.7 L531.0 564.9Z" fill="#000"/><g font-family="Liberation Sans, sans-serif" fill="#444" font-size="8"><text x="343.5" y="497.1" text-anchor="end">30°N</text><text x="343.5" y="580.8" text-anchor="end">20°N</text><text x="343.5" y="665.0" text-anchor="end">10°N</text><text x="389.4" y="699.4" text-anchor="middle">70°E</text><text x="467.8" y="699.4" text-anchor="middle">80°E</text><text x="546.6" y="699.4" text-anchor="middle">90°E</text><text x="624.7" y="699.4" text-anchor="middle">100°E</text></g><g font-family="Liberation Sans, sans-serif" fill="#1a1a1a" font-size="9"><text x="489.5" y="715.0" text-anchor="middle">Longitude</text><text transform="translate(319.3 562.5) rotate(-90)" text-anchor="middle">Latitude</text><text x="648" y="513.0">Total</text><text x="648" y="525.1">Rainfall</text><text x="648" y="537.2">(mm)</text></g><rect x="648" y="542.4" width="10.3" height="77" fill="url(#lg)"/><g font-family="Liberation Sans, sans-serif" fill="#444" font-size="8"><text x="661.3" y="564.9">4000</text><path d="M658.3 562.0 h1.5" stroke="#333" stroke-width="0.5"/><text x="661.3" y="594.3">2000</text><path d="M658.3 591.4 h1.5" stroke="#333" stroke-width="0.5"/></g></svg><!--/MAP-->
</body></html>
